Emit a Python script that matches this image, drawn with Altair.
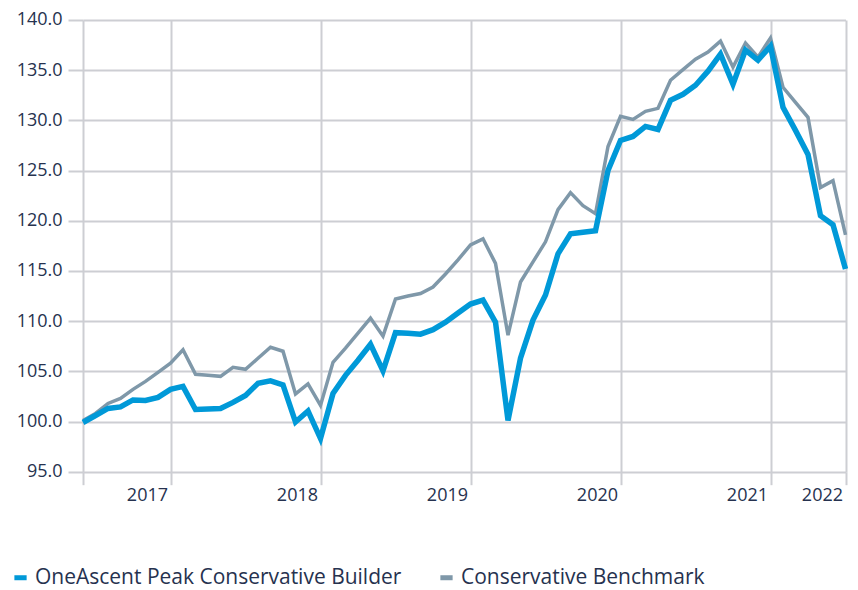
import altair as alt
import pandas as pd

# Monthly observations, May 2017 .. Jun 2022 (month index 0..61)
months = list(pd.date_range("2017-05-01", "2022-06-01", freq="MS").strftime("%Y-%m"))
month_idx = list(range(len(months)))

builder = [
    99.9, 100.6, 101.3, 101.45, 102.15, 102.1, 102.4, 103.2, 103.5, 101.2,
    101.25, 101.3, 101.9, 102.6, 103.8, 104.05, 103.65, 99.95, 101.05, 98.3,
    102.8, 104.6, 106.1, 107.7, 105.05, 108.85, 108.8, 108.7, 109.15, 109.9,
    110.8, 111.7, 112.1, 109.9, 100.1, 106.3, 110.1, 112.6, 116.7, 118.7,
    118.85, 119.0, 125.0, 128.0, 128.4, 129.4, 129.1, 132.0, 132.6, 133.5,
    134.9, 136.6, 133.6, 137.0, 136.0, 137.4, 131.3, 129.0, 126.6, 120.5,
    119.6, 115.2,
]

benchmark = [
    100.1, 100.8, 101.8, 102.3, 103.2, 104.0, 104.9, 105.8, 107.15, 104.7,
    104.6, 104.5, 105.4, 105.2, 106.3, 107.4, 107.0, 102.75, 103.75, 101.6,
    105.9, 107.3, 108.8, 110.3, 108.5, 112.2, 112.5, 112.75, 113.4, 114.7,
    116.1, 117.6, 118.2, 115.75, 108.6, 113.9, 115.9, 117.9, 121.1, 122.8,
    121.5, 120.7, 127.4, 130.4, 130.1, 130.9, 131.2, 134.0, 135.05, 136.1,
    136.8, 137.9, 135.3, 137.7, 136.3, 138.2, 133.3, 131.8, 130.3, 123.3,
    124.0, 118.6,
]

series_names = ["OneAscent Peak Conservative Builder", "Conservative Benchmark"]
series_colors = ["#0099d8", "#7f98a9"]

y_ticks = [95, 100, 105, 110, 115, 120, 125, 130, 135, 140]
x_tick_months = ["2017-05", "2017-12", "2018-12", "2019-12", "2020-12", "2021-12", "2022-06"]
x_tick_labels = ["", "2017", "2018", "2019", "2020", "2021", "2022"]

df = pd.DataFrame({
    "idx": month_idx + month_idx,
    "month": months + months,
    "value": builder + benchmark,
    "series": [series_names[0]] * len(months) + [series_names[1]] * len(months),
})

x_tick_idx = [months.index(m) for m in x_tick_months]
label_expr = "''"
for ti, lab in reversed(list(zip(x_tick_idx, x_tick_labels))):
    label_expr = f"datum.value == {ti} ? '{lab}' : ({label_expr})"

GRID = "#cdced3"
TEXT = "#26324f"
FONT = "Open Sans"

base = alt.Chart(df).encode(
    x=alt.X(
        "idx:Q",
        scale=alt.Scale(domain=[0, len(months) - 1], nice=False, zero=False),
        axis=alt.Axis(
            values=x_tick_idx, labelExpr=label_expr, title=None, grid=True,
            gridColor=GRID, gridWidth=2, domain=False,
            ticks=True, tickSize=13, tickColor=GRID, tickWidth=2,
            labelFont=FONT, labelFontSize=18, labelColor=TEXT,
            labelAlign="right", labelBaseline="top", labelPadding=2,
            labelOffset=-3, labelFlush=False, labelOverlap=False, labelBound=False,
        ),
    ),
    y=alt.Y(
        "value:Q",
        scale=alt.Scale(domain=[95, 140], nice=False, zero=False),
        axis=alt.Axis(
            values=y_ticks, format=".1f", title=None, grid=True,
            gridColor=GRID, gridWidth=2, domain=False,
            ticks=True, tickSize=15, tickColor=GRID, tickWidth=2,
            labelFont=FONT, labelFontSize=18, labelColor=TEXT, labelPadding=6,
        ),
    ),
    color=alt.Color(
        "series:N",
        scale=alt.Scale(domain=series_names, range=series_colors),
        legend=alt.Legend(
            title=None, orient="none", direction="horizontal",
            legendX=-73, legendY=547,
            symbolType="stroke", symbolSize=150, symbolStrokeWidth=5,
            labelFont=FONT, labelFontSize=21, labelColor=TEXT,
            labelOffset=4, columnPadding=28, labelLimit=600,
        ),
    ),
)

gray = base.transform_filter(alt.datum.series == series_names[1]).mark_line(strokeWidth=3.5)
blue = base.transform_filter(alt.datum.series == series_names[0]).mark_line(strokeWidth=5.5)

chart = alt.layer(gray, blue).properties(
    width=762.5,
    height=451.7,
    padding={"left": 75, "top": 12, "right": 4, "bottom": 118},
    autosize="none",
).configure_view(stroke=None)

chart.save("out.html", embed_options={"renderer": "svg", "actions": False})
